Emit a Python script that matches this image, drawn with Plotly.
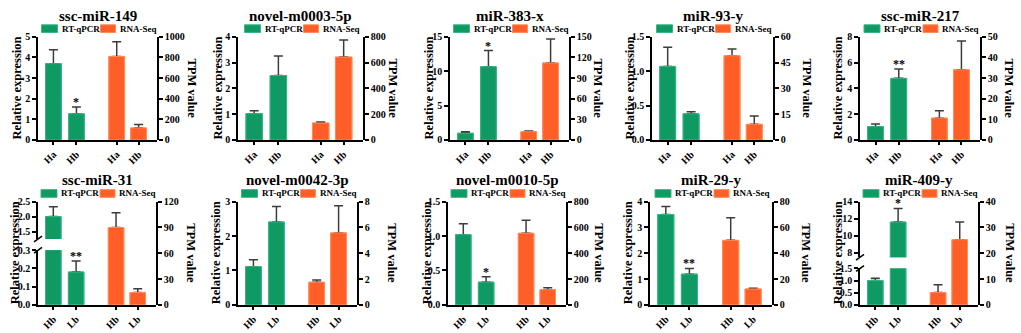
import plotly.graph_objects as go

W, H = 1021, 333
FONT = "Liberation Serif"
GREEN, GREEN_EDGE = "#0F9A64", "#3AB584"
ORANGE, ORANGE_EDGE = "#FF5F26", "#FF8C5C"
ERR = "#3C3C3C"

# ---------------- data ----------------
titles = ["ssc-miR-149", "novel-m0003-5p", "miR-383-x", "miR-93-y", "ssc-miR-217",
          "ssc-miR-31", "novel-m0042-3p", "novel-m0010-5p", "miR-29-y", "miR-409-y"]
groups_top = ["Ha", "Hb"]
groups_bottom = ["Hb", "Lb"]
series_names = ["RT-qPCR", "RNA-Seq"]

qpcr = [[3.70, 1.27], [1.02, 2.50], [0.98, 10.65], [1.07, 0.38], [1.03, 4.78],
        [2.00, 0.18], [1.11, 2.41], [1.02, 0.33], [3.50, 1.19], [1.00, 11.60]]
qpcr_err = [[0.67, 0.33], [0.11, 0.76], [0.22, 2.35], [0.28, 0.03], [0.22, 0.72],
            [0.33, 0.06], [0.20, 0.45], [0.16, 0.08], [0.31, 0.22], [0.10, 1.60]]
tpm = [[810, 117], [132, 643], [12, 112], [49, 9.1], [10.6, 34],
       [90, 14.3], [1.75, 5.58], [555, 117], [50, 12.3], [4.75, 25.25]]
tpm_err = [[143, 33], [8, 132], [1.2, 35], [4, 4.8], [3.6, 14],
           [17, 4.5], [0.18, 2.1], [100, 15], [17.5, 0.5], [3.0, 6.85]]
stars = [["", "*"], ["", ""], ["", "*"], ["", ""], ["", "**"],
         ["", "**"], ["", ""], ["", "*"], ["", "**"], ["", "*"]]

left_max = [5, 4, 15, 1.5, 8, None, 3, 1.5, 4, None]
left_ticks = [[0, 1, 2, 3, 4, 5], [0, 1, 2, 3, 4], [0, 5, 10, 15], [0, 0.5, 1.0, 1.5],
              [0, 2, 4, 6, 8], None, [0, 1, 2, 3], [0, 0.5, 1.0, 1.5], [0, 1, 2, 3, 4], None]
left_fmt = ["d", "d", "d", ".1f", "d", None, "d", ".1f", "d", None]
broken = {
    5: dict(lo=[0, 0.3], lo_ticks=[0, 0.1, 0.2, 0.3], lo_fmt=".1f",
            hi=[1.25, 2.5], hi_ticks=[1.5, 2.0, 2.5], hi_fmt=".1f"),
    9: dict(lo=[0, 1.5], lo_ticks=[0, 0.5, 1.0, 1.5], lo_fmt=".1f",
            hi=[7.45, 14], hi_ticks=[8, 10, 12, 14], hi_fmt="d"),
}
right_max = [1000, 800, 150, 60, 50, 120, 8, 800, 80, 40]
right_ticks = [[0, 200, 400, 600, 800, 1000], [0, 200, 400, 600, 800], [0, 30, 60, 90, 120, 150],
               [0, 15, 30, 45, 60], [0, 10, 20, 30, 40, 50], [0, 30, 60, 90, 120],
               [0, 2, 4, 6, 8], [0, 200, 400, 600, 800], [0, 20, 40, 60, 80], [0, 10, 20, 30, 40]]

# ---------------- layout geometry (pixels) ----------------
panel_x = [(38, 157), (238, 363), (450, 569), (652, 773), (860, 980),
           (38, 156), (238, 357), (448, 566), (650, 772), (860, 978)]
row_y = [(32, 139), (203, 310)]
split_px = {5: ((253.3, 310), (203, 241.7)), 9: ((272.3, 310), (203, 260.7))}
title_y = [10, 180]
legend_y = [23.5, 194.5]
left_lab_x = [17, 218, 429, 630, 838, 15, 216, 427, 628, 838]
right_lab_x = [192, 393, 598, 807, 1009, 191, 392, 599, 806, 1010]

X_POS = [0, 1, 2.75, 3.7]
X_RANGE = [-0.67, 4.5]
BAR_W = 0.68


def fx(p):
    return p / W


def fy(p):
    return 1 - p / H


tickfont = dict(family=FONT, size=10, color="black", weight="bold")
axis_style = dict(showline=True, linecolor="black", linewidth=1.6, ticks="outside",
                  ticklen=4, tickwidth=1.5, tickcolor="black", showgrid=False,
                  zeroline=False, tickfont=tickfont, fixedrange=True)

fig = go.Figure()
layout = {}
annotations = []
shapes = []


def add_bars(xa, ya, xs, vals, errs, color, edge):
    err = dict(type="data", symmetric=False, array=errs, arrayminus=[0] * len(errs),
               color=ERR, thickness=1.5, width=4.5)
    fig.add_trace(go.Bar(x=xs, y=vals, width=BAR_W, xaxis=xa, yaxis=ya,
                         marker=dict(color=color, line=dict(color=edge, width=1)),
                         error_y=err, showlegend=False, hoverinfo="skip"))
    fig.add_trace(go.Bar(x=xs, y=vals, width=BAR_W, xaxis=xa, yaxis=ya,
                         marker=dict(color=color, line=dict(color=edge, width=1)),
                         showlegend=False, hoverinfo="skip"))


def add_star(xa, ya, x, val, err, label):
    if label:
        annotations.append(dict(text=label, x=x, y=val + err, xref=xa, yref=ya,
                                xanchor="center", yanchor="bottom", yshift=-4,
                                showarrow=False,
                                font=dict(family=FONT, size=12, color="black", weight="bold")))


for i in range(10):
    n = i + 1
    row = 0 if i < 5 else 1
    x0, x1 = panel_x[i]
    ytop, ybot = row_y[row]
    cats = groups_top if row == 0 else groups_bottom
    xa = f"x{n}"
    ya_left = f"y{n}"
    ya_right = f"y{10 + n}"

    layout[f"xaxis{n}"] = dict(axis_style, domain=[fx(x0), fx(x1)], range=X_RANGE,
                               tickvals=X_POS, ticktext=cats + cats, tickangle=-45,
                               anchor=ya_left, ticklen=3,
                               tickfont=dict(tickfont, size=10))
    layout[f"yaxis{10 + n}"] = dict(axis_style, domain=[fy(ybot), fy(ytop)], side="right",
                                    anchor=xa, range=[0, right_max[i]], tickvals=right_ticks[i])

    if i in broken:
        b = broken[i]
        (lo_t, lo_b), (hi_t, hi_b) = split_px[i][0], split_px[i][1]
        ya_hi = f"y{20 + n}"
        layout[f"yaxis{n}"] = dict(axis_style, domain=[fy(lo_b), fy(lo_t)], anchor=xa,
                                   range=b["lo"], tickvals=b["lo_ticks"], tickformat=b["lo_fmt"])
        layout[f"yaxis{20 + n}"] = dict(axis_style, domain=[fy(hi_b), fy(hi_t)], anchor=xa,
                                        range=b["hi"], tickvals=b["hi_ticks"], tickformat=b["hi_fmt"])
        add_bars(xa, ya_left, X_POS[:2], qpcr[i], qpcr_err[i], GREEN, GREEN_EDGE)
        add_bars(xa, ya_hi, X_POS[:2], qpcr[i], qpcr_err[i], GREEN, GREEN_EDGE)
        # stars in whichever segment holds the error-bar tip
        for k in range(2):
            tip = qpcr[i][k] + qpcr_err[i][k]
            target = ya_left if tip <= b["lo"][1] else ya_hi
            add_star(xa, target, X_POS[k], qpcr[i][k], qpcr_err[i][k], stars[i][k])
        # break marks
        for yb in (lo_t, hi_b):
            shapes.append(dict(type="line", xref="paper", yref="paper",
                               x0=fx(x0 - 4), y0=fy(yb + 3), x1=fx(x0 + 4), y1=fy(yb - 3),
                               line=dict(color="black", width=1.5)))
    else:
        layout[f"yaxis{n}"] = dict(axis_style, domain=[fy(ybot), fy(ytop)], anchor=xa,
                                   range=[0, left_max[i]], tickvals=left_ticks[i],
                                   tickformat=left_fmt[i])
        add_bars(xa, ya_left, X_POS[:2], qpcr[i], qpcr_err[i], GREEN, GREEN_EDGE)
        for k in range(2):
            add_star(xa, ya_left, X_POS[k], qpcr[i][k], qpcr_err[i][k], stars[i][k])

    add_bars(xa, ya_right, X_POS[2:], tpm[i], tpm_err[i], ORANGE, ORANGE_EDGE)

    # titles and axis labels
    cx = (x0 + x1) / 2
    cy = (ytop + ybot) / 2
    annotations.append(dict(text=titles[i], x=fx(cx), y=fy(title_y[row]), xref="paper", yref="paper",
                            xanchor="center", yanchor="middle", showarrow=False,
                            font=dict(family=FONT, size=15, color="black", weight="bold")))
    annotations.append(dict(text="Relative expression", x=fx(left_lab_x[i]), y=fy(cy),
                            xref="paper", yref="paper", xanchor="center", yanchor="middle",
                            textangle=-90, showarrow=False,
                            font=dict(family=FONT, size=12.5, color="black", weight="bold")))
    annotations.append(dict(text="TPM value", x=fx(right_lab_x[i]), y=fy(cy),
                            xref="paper", yref="paper", xanchor="center", yanchor="middle",
                            textangle=90, showarrow=False,
                            font=dict(family=FONT, size=12.5, color="black", weight="bold")))

    # per-panel legend
    ly = legend_y[row]
    for (sx0, sx1, tx), col, edge, name in zip(
            [(cx - 56, cx - 40, cx - 38), (cx + 3, cx + 18, cx + 20)],
            [GREEN, ORANGE], [GREEN_EDGE, ORANGE_EDGE], series_names):
        shapes.append(dict(type="rect", xref="paper", yref="paper",
                           x0=fx(sx0), x1=fx(sx1), y0=fy(ly + 4), y1=fy(ly - 4),
                           fillcolor=col, line=dict(color=edge, width=1)))
        annotations.append(dict(text=name, x=fx(tx), y=fy(ly), xref="paper", yref="paper",
                                xanchor="left", yanchor="middle", showarrow=False,
                                font=dict(family=FONT, size=9, color="black", weight="bold")))

fig.update_layout(**layout)
fig.update_layout(width=W, height=H, margin=dict(l=0, r=0, t=0, b=0),
                  paper_bgcolor="white", plot_bgcolor="rgba(0,0,0,0)",
                  barmode="overlay", showlegend=False,
                  annotations=annotations, shapes=shapes)

fig.write_html("out.html", config={"displayModeBar": False},
               post_script=["document.body.style.margin='0px';"])
